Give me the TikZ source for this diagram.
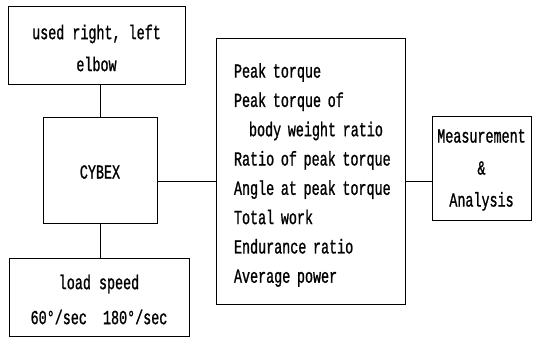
\documentclass[tikz,border=0pt]{standalone}
\usepackage{fontspec}
\setmainfont[FakeStretch=0.67,FakeBold=1]{Liberation Mono}
\begin{document}
\begin{tikzpicture}[x=1pt,y=-1pt,
  box/.style={draw,line width=0.8pt,inner sep=0pt},
  txt/.style={inner sep=0pt,align=center},
  conn/.style={line width=0.8pt}]
\useasboundingbox (0,0) rectangle (534,337);
\node[box,minimum width=177pt,minimum height=78pt] (use) at (96.5,45) {};
\node[txt,font=\fontsize{20}{32}\selectfont] (usetxt) at (96.5,48) {used right, left\\elbow};
\node[box,minimum width=114pt,minimum height=106pt] (cybex) at (100,170) {};
\node[txt,font=\fontsize{20}{32}\selectfont] (cybextxt) at (100,172) {CYBEX};
\node[box,minimum width=180pt,minimum height=78pt] (load) at (99,297) {};
\node[txt,font=\fontsize{20}{35}\selectfont] (loadtxt) at (99,299.5) {load speed\\60°/sec\ \ 180°/sec};
\node[box,minimum width=189pt,minimum height=266pt] (mid) at (310.5,171) {};
\node[txt,text width=160pt,align=left,font=\fontsize{20}{29.3}\selectfont] (midtxt) at (314,175) 
 {Peak torque\\Peak torque of\\\hspace*{15pt}body weight ratio\\Ratio of peak torque\\Angle at peak torque\\Total work\\Endurance ratio\\Average power};
\node[box,minimum width=99pt,minimum height=104pt] (meas) at (481.5,168) {};
\node[txt,font=\fontsize{20}{32}\selectfont] (meastxt) at (481.5,170) {Measurement\\\&\\Analysis};
\coordinate (j) at (0,181);
\draw[conn] (cybex.north) -- (cybex.north |- use.south);
\draw[conn] (cybex.south) -- (cybex.south |- load.north);
\draw[conn] (cybex.east |- j) -- (mid.west |- j);
\draw[conn] (mid.east |- j) -- (meas.west |- j);
\end{tikzpicture}
\end{document}
